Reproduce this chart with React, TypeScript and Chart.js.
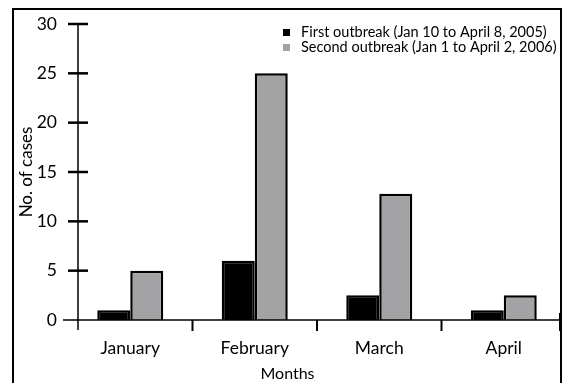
import React, { useEffect, useRef } from "react";
import { Chart, registerables } from "chart.js";

Chart.register(...registerables);

const months = ["January", "February", "March", "April"];
const firstOutbreak = [1, 6, 2.5, 1];
const secondOutbreak = [5, 25, 12.8, 2.5];
const yTickValues = [0, 5, 10, 15, 20, 25, 30];
const firstLabel = "First outbreak (Jan 10 to April 8, 2005)";
const secondLabel = "Second outbreak (Jan 1 to April 2, 2006)";
const xTitle = "Months";
const yTitle = "No. of cases";

const FONT = "Lato, 'DejaVu Sans', sans-serif";
const BLACK = "#000000";
const GRAY = "#a3a3a6";

const decor = {
  id: "decor",
  afterDraw(chart: any) {
    const { ctx, chartArea, scales } = chart;
    const xs = scales.x;
    const ys = scales.y;
    const line = (x1: number, y1: number, x2: number, y2: number) => {
      ctx.beginPath();
      ctx.moveTo(x1, y1);
      ctx.lineTo(x2, y2);
      ctx.stroke();
    };
    ctx.save();
    ctx.strokeStyle = "#000";
    ctx.lineCap = "butt";
    // outer frame
    ctx.lineWidth = 2;
    ctx.beginPath();
    ctx.moveTo(13, chart.height + 5);
    ctx.lineTo(13, 9);
    ctx.lineTo(561, 9);
    ctx.lineTo(561, chart.height + 5);
    ctx.stroke();

    const axisX = chartArea.left + 10;
    const base = ys.getPixelForValue(0);
    const top = ys.getPixelForValue(yTickValues[yTickValues.length - 1]);
    const rightEnd = 560;
    // axes
    ctx.lineWidth = 1.5;
    line(axisX, top, axisX, base + 10);
    line(axisX - 15, base, rightEnd, base);
    // y tick marks
    ctx.lineWidth = 2.5;
    yTickValues.forEach((v) => {
      if (v === 0) return;
      const py = ys.getPixelForValue(v);
      line(axisX - 10, py, axisX + 10, py);
    });
    // x tick marks at category boundaries
    ctx.lineWidth = 2;
    for (let i = 1; i < months.length; i++) {
      const bx = (xs.getPixelForValue(i - 1) + xs.getPixelForValue(i)) / 2;
      line(bx, base, bx, base + 11);
    }
    line(rightEnd, base - 7, rightEnd, base + 11);

    // legend
    ctx.font = `14.5px ${FONT}`;
    ctx.textBaseline = "middle";
    ctx.textAlign = "left";
    chart.data.datasets.forEach((ds: any, i: number) => {
      const cy = 32.5 + i * 15;
      ctx.fillStyle = ds.backgroundColor;
      ctx.fillRect(283, cy - 3.5, 7, 7);
      ctx.fillStyle = "#000";
      ctx.fillText(ds.label, 301, cy);
    });
    ctx.restore();
  },
};

export default function App() {
  const ref = useRef<HTMLCanvasElement | null>(null);
  useEffect(() => {
    if (!ref.current) return;
    const chart = new Chart(ref.current, {
      type: "bar",
      data: {
        labels: months,
        datasets: [
          {
            label: firstLabel,
            data: firstOutbreak,
            backgroundColor: BLACK,
            borderColor: BLACK,
            borderWidth: 2.5,
          },
          {
            label: secondLabel,
            data: secondOutbreak,
            backgroundColor: GRAY,
            borderColor: BLACK,
            borderWidth: 2.5,
          },
        ],
      },
      options: {
        responsive: false,
        animation: false,
        events: [],
        layout: { padding: { top: 24, left: 0, right: -9, bottom: 0 } },
        datasets: { bar: { categoryPercentage: 0.53, barPercentage: 1 } },
        plugins: {
          legend: { display: false },
          tooltip: { enabled: false },
          title: {
            display: true,
            position: "bottom",
            text: xTitle,
            color: "#000",
            font: { family: FONT, size: 16, weight: "normal" },
            padding: { top: 0, bottom: 0 },
          },
        },
        scales: {
          x: {
            grid: { display: false, drawTicks: false },
            border: { display: false },
            ticks: {
              color: "#000",
              padding: 18,
              font: { family: FONT, size: 17.5 },
              maxRotation: 0,
            },
            afterFit: (s: any) => {
              s.height = 43.8;
            },
          },
          y: {
            min: 0,
            max: 30,
            grid: { display: false, drawTicks: false },
            border: { display: false },
            afterBuildTicks: (s: any) => {
              s.ticks = yTickValues.map((v) => ({ value: v }));
            },
            ticks: {
              color: "#000",
              padding: 11,
              font: { family: FONT, size: 17.5 },
            },
            title: {
              display: true,
              text: yTitle,
              color: "#000",
              font: { family: FONT, size: 17 },
              padding: { top: 16, bottom: 0 },
            },
            afterFit: (s: any) => {
              s.width = 68;
            },
          },
        },
      },
      plugins: [decor],
    });
    return () => chart.destroy();
  }, []);
  return (
    <div style={{ position: "absolute", left: 0, top: 0, width: 566, height: 383 }}>
      <canvas ref={ref} width={566} height={383} style={{ display: "block" }} />
    </div>
  );
}
